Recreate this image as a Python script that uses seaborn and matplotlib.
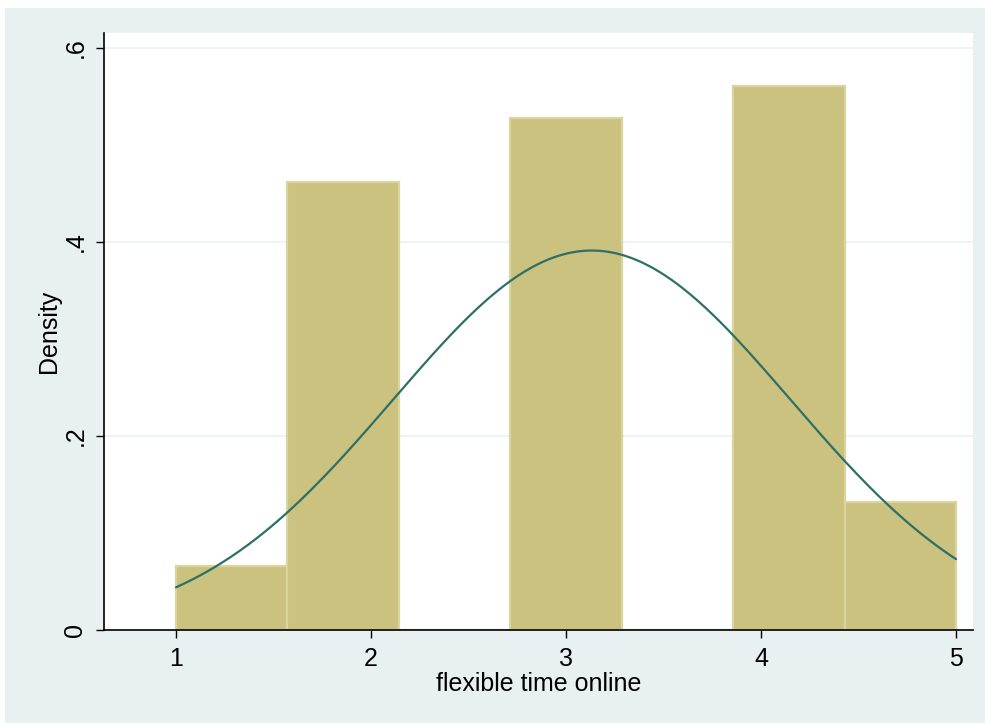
import numpy as np
import pandas as pd
import matplotlib
matplotlib.use("Agg")
import matplotlib.pyplot as plt
import seaborn as sns
from matplotlib.patches import Rectangle

# Data: responses 1..5 and their frequencies
values = [1, 2, 3, 4, 5]
counts = [2, 14, 16, 17, 4]
xticks = [1, 2, 3, 4, 5]
yticks = [0, 0.2, 0.4, 0.6]
ytick_labels = ["0", ".2", ".4", ".6"]

sns.set_style("white")
plt.rcParams['font.family'] = ['Liberation Sans', 'DejaVu Sans']
plt.rcParams['text.color'] = 'black'
plt.rcParams['axes.labelcolor'] = 'black'
plt.rcParams['xtick.color'] = 'black'
plt.rcParams['ytick.color'] = 'black'

df = pd.DataFrame({"value": values, "count": counts})

fig = plt.figure(figsize=(9.85, 7.23), dpi=100, facecolor="white")
fig.patches.append(Rectangle((5/985, 0), 1 - 5/985, 1 - 8/723, transform=fig.transFigure,
                             facecolor="#E8F0F2", edgecolor="none", zorder=-10))
ax = fig.add_axes([104/985, 1 - 630/723, (973-104)/985, (630-33)/723])
ax.set_facecolor("white")

sns.histplot(data=df, x="value", weights="count", bins=7, binrange=(1, 5), stat="density",
             color="#CAC27E", edgecolor="#DAD4A0", linewidth=1.6, alpha=1, ax=ax, zorder=2)

# Normal density with the sample's mean and sd
v = np.repeat(values, counts)
mu, sd = v.mean(), v.std(ddof=1)
xs = np.linspace(min(values), max(values), 300)
pdf = np.exp(-0.5 * ((xs - mu) / sd) ** 2) / (sd * np.sqrt(2 * np.pi))
sns.lineplot(x=xs, y=pdf, color="#2E6F68", linewidth=1.6, ax=ax, zorder=3)

ax.set_xlim(1 - 72/195, 5 + 17/195)
ax.set_ylim(0, (630 - 33) / 970)

for yv in yticks[1:]:
    ax.axhline(yv, color="#EAF2F3", linewidth=1.3, zorder=1)

ax.set_xticks(xticks)
ax.set_xticklabels([str(t) for t in xticks], fontsize=18, color="black")
ax.set_yticks(yticks)
ax.set_yticklabels(ytick_labels, fontsize=18, rotation=90, va="center", color="black")
ax.tick_params(axis="both", direction="out", length=6, width=1, color="black",
               left=True, bottom=True, pad=6)
ax.set_xlabel("flexible time online", fontsize=18, labelpad=1, color="black")
ax.set_ylabel("Density", fontsize=18, labelpad=2, color="black")

for s in ["top", "right"]:
    ax.spines[s].set_visible(False)
for s in ["left", "bottom"]:
    ax.spines[s].set_color("black")
    ax.spines[s].set_linewidth(1.2)

fig.savefig("out.png", dpi=100, facecolor=fig.get_facecolor())
